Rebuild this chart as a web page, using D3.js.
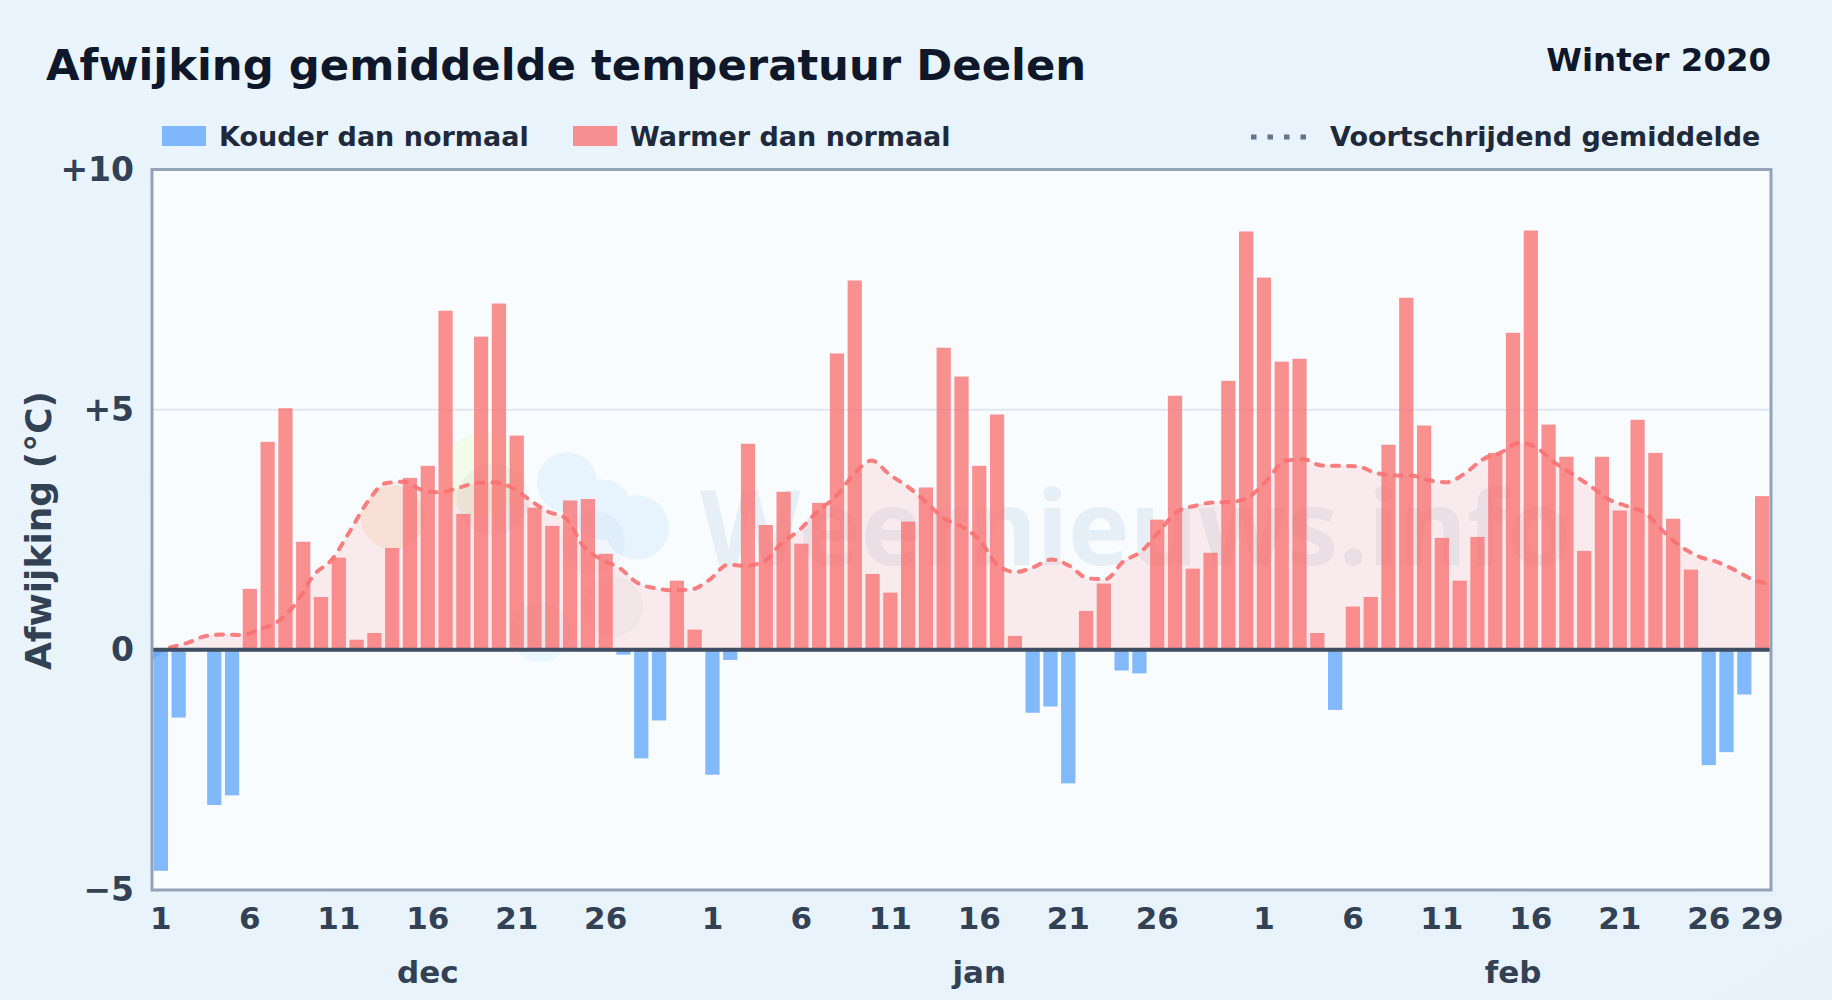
<!DOCTYPE html>
<html>
<head>
<meta charset="utf-8">
<title>Afwijking gemiddelde temperatuur Deelen</title>
<script src="https://cdn.jsdelivr.net/npm/d3@7"></script>
<style>
    html, body { margin: 0; padding: 0; background: #e9f3fc; }
    svg { display: block; }
    text { font-family: "DejaVu Sans", sans-serif; font-weight: 700; }
</style>
</head>
<body>
<svg id="chart" width="1832" height="1000"></svg>
<script>
// Daily values, dec 1 to feb 29
var dec = [-4.6, -1.41, 0, -3.23, -3.03, 1.27, 4.33, 5.03, 2.25, 1.10, 1.92, 0.21, 0.35, 2.12, 3.58, 3.83,
    7.06, 2.83, 6.52, 7.21, 4.46, 2.96, 2.58, 3.11, 3.14, 2.0, -0.1, -2.26, -1.47, 1.44, 0.42];
var jan = [-2.6, -0.21, 4.29, 2.6, 3.29, 2.21, 3.06, 6.17, 7.69, 1.58, 1.19, 2.67, 3.38, 6.29, 5.69, 3.83,
    4.90, 0.29, -1.31, -1.18, -2.78, 0.81, 1.38, -0.43, -0.49, 2.71, 5.29, 1.69, 2.02, 5.6, 8.71];
var feb = [7.75, 6.0, 6.06, 0.35, -1.25, 0.9, 1.10, 4.27, 7.33, 4.67, 2.33, 1.44, 2.35, 4.1, 6.6, 8.73,
    4.69, 4.02, 2.06, 4.02, 2.9, 4.79, 4.1, 2.73, 1.67, -2.4, -2.13, -0.93, 3.2];

// Moving average, one value per day
var gemiddelde = [-0.24, 0.05, 0.15, 0.29, 0.32, 0.31, 0.43, 0.59, 0.97, 1.56, 1.88, 2.47, 3.09, 3.47, 3.5, 3.33,
    3.28, 3.37, 3.47, 3.49, 3.38, 3.12, 2.88, 2.74, 2.15, 1.88, 1.70, 1.39, 1.28, 1.24, 1.26, 1.46,
    1.77, 1.75, 1.84, 2.22, 2.5, 2.88, 3.19, 3.65, 3.94, 3.65, 3.40, 3.09, 2.74, 2.57, 2.29, 1.77,
    1.62, 1.72, 1.88, 1.75, 1.49, 1.47, 1.84, 2.05, 2.47, 2.88, 3.0, 3.07, 3.08, 3.19, 3.54, 3.94,
    3.97, 3.84, 3.83, 3.82, 3.69, 3.63, 3.63, 3.53, 3.49, 3.68, 3.97, 4.11, 4.31, 4.2, 3.89, 3.65,
    3.4, 3.13, 2.99, 2.85, 2.47, 2.15, 1.94, 1.83, 1.66, 1.46, 1.37];

var maanden = ['dec', 'jan', 'feb'];
var dagLabels = [1, 6, 11, 16, 21, 26];
var febExtra = [29];
var yTicks = [-5, 0, 5, 10];
var yRaster = [5];

var titel = 'Afwijking gemiddelde temperatuur Deelen';
var subtitel = 'Winter 2020';
var legendaKoud = 'Kouder dan normaal';
var legendaWarm = 'Warmer dan normaal';
var legendaLijn = 'Voortschrijdend gemiddelde';
var yTitel = 'Afwijking (°C)';
var watermerk = 'Weernieuws.info';

var svg = d3.select('#chart');
var padding = {t: 169.5, r: 61, b: 110, l: 152};
var chartWidth = 1832 - padding.l - padding.r;
var chartHeight = 1000 - padding.t - padding.b;

// page background
var defs = svg.append('defs');
var bg = defs.append('linearGradient').attr('id', 'bg')
    .attr('x1', 0).attr('y1', 0).attr('x2', 1).attr('y2', 1);
bg.append('stop').attr('offset', '0%').attr('stop-color', '#e9f4fc');
bg.append('stop').attr('offset', '100%').attr('stop-color', '#e8f2fb');
defs.append('clipPath').attr('id', 'plotClip').append('rect')
    .attr('width', chartWidth).attr('height', chartHeight);

svg.append('rect').attr('width', 1832).attr('height', 1000).attr('fill', 'url(#bg)');

// one record per day, with its month
var dagen = [];
[dec, jan, feb].forEach(function(values, m) {
    values.forEach(function(v, i) {
        dagen.push({key: maanden[m] + (i + 1), maand: maanden[m], dag: i + 1, waarde: v});
    });
});
var keys = dagen.map(function(d) { return d.key; });

var xScale = d3.scaleBand().domain(keys).range([0, chartWidth]).paddingInner(0.2).paddingOuter(0.1);
// the average runs from frame to frame
var xLine = d3.scalePoint().domain(keys).range([0, chartWidth]);
var yScale = d3.scaleLinear().domain([-5, 10]).range([chartHeight, 0]);

var chartG = svg.append('g').attr('transform', 'translate(' + [padding.l, padding.t] + ')');

chartG.append('rect').attr('width', chartWidth).attr('height', chartHeight).attr('fill', '#f8fcff');

// watermark behind the data
var wm = chartG.append('g').attr('clip-path', 'url(#plotClip)');
wm.append('circle').attr('cx', 331).attr('cy', 305).attr('r', 42).attr('fill', '#ecfccb').attr('opacity', 0.4);
wm.append('circle').attr('cx', 241).attr('cy', 348).attr('r', 32).attr('fill', '#fed7aa').attr('opacity', 0.3);
// cloud in one group, so the overlaps stay flat
var wolk = wm.append('g').attr('fill', '#d3ebfd').attr('opacity', 0.45);
wolk.append('circle').attr('cx', 415).attr('cy', 313).attr('r', 30);
wolk.append('circle').attr('cx', 450).attr('cy', 340).attr('r', 30);
wolk.append('circle').attr('cx', 485).attr('cy', 358).attr('r', 32);
wm.append('circle').attr('cx', 341).attr('cy', 330).attr('r', 36).attr('fill', '#94a3b8').attr('opacity', 0.1);
wm.append('circle').attr('cx', 441).attr('cy', 373).attr('r', 32).attr('fill', '#94a3b8').attr('opacity', 0.07);
wm.append('circle').attr('cx', 461).attr('cy', 437).attr('r', 30).attr('fill', '#94a3b8').attr('opacity', 0.07);
wm.append('circle').attr('cx', 388).attr('cy', 463).attr('r', 30).attr('fill', '#bae6fd').attr('opacity', 0.2);
wm.append('text').text(watermerk)
    .attr('x', 548).attr('y', 395.5)
    .attr('font-size', 104)
    .style('font-family', '"Noto Sans"')
    .attr('fill', '#1e5a8a').attr('opacity', 0.07);

// grid
chartG.selectAll('.raster').data(yRaster).enter().append('line')
    .attr('class', 'raster')
    .attr('x1', 0).attr('x2', chartWidth)
    .attr('y1', function(d) { return yScale(d); })
    .attr('y2', function(d) { return yScale(d); })
    .attr('stroke', '#e2e8f0').attr('stroke-width', 2);

// area under the average
var areaWarm = d3.area()
    .x(function(d) { return xLine(d.key); })
    .y0(yScale(0))
    .y1(function(d, i) { return yScale(Math.max(gemiddelde[i], 0)); })
    .curve(d3.curveMonotoneX);
var areaKoud = d3.area()
    .x(function(d) { return xLine(d.key); })
    .y0(yScale(0))
    .y1(function(d, i) { return yScale(Math.min(gemiddelde[i], 0)); })
    .curve(d3.curveMonotoneX);

chartG.append('path').datum(dagen).attr('d', areaWarm).attr('fill', '#f87171').attr('fill-opacity', 0.13);
chartG.append('path').datum(dagen).attr('d', areaKoud).attr('fill', '#3b82f6').attr('fill-opacity', 0.5);

// bars
chartG.selectAll('.bar').data(dagen).enter().append('rect')
    .attr('class', 'bar')
    .attr('x', function(d) { return xScale(d.key); })
    .attr('width', xScale.bandwidth())
    .attr('y', function(d) { return yScale(Math.max(d.waarde, 0)); })
    .attr('height', function(d) { return Math.abs(yScale(d.waarde) - yScale(0)); })
    .attr('fill', function(d) { return d.waarde < 0 ? '#60a5fa' : '#f87171'; })
    .attr('fill-opacity', 0.78);

// moving average, dashes start at the second day
chartG.append('path').datum(dagen.slice(1)).attr('d', d3.line()
        .x(function(d) { return xLine(d.key); })
        .y(function(d, i) { return yScale(gemiddelde[i + 1]); })
        .curve(d3.curveMonotoneX))
    .attr('fill', 'none')
    .attr('stroke', '#f87171').attr('stroke-opacity', 0.9)
    .attr('stroke-width', 4)
    .attr('stroke-linecap', 'round')
    .attr('stroke-dasharray', '7 9');

// zero line and frame
chartG.append('line')
    .attr('x1', 0).attr('x2', chartWidth)
    .attr('y1', yScale(0)).attr('y2', yScale(0))
    .attr('stroke', '#414d60').attr('stroke-width', 4);
chartG.append('rect')
    .attr('width', chartWidth).attr('height', chartHeight)
    .attr('fill', 'none').attr('stroke', '#94a3b8').attr('stroke-width', 3);

// axes
var yAxis = d3.axisLeft(yScale).tickValues(yTicks).tickSize(0).tickPadding(18)
    .tickFormat(function(d) { return d > 0 ? '+' + d : (d < 0 ? '\u2212' + Math.abs(d) : '0'); });
var yG = chartG.append('g').call(yAxis);
yG.select('.domain').remove();
yG.selectAll('text').attr('font-size', 33).attr('fill', '#334155');

var tickKeys = [];
maanden.forEach(function(m) {
    dagLabels.forEach(function(d) { tickKeys.push(m + d); });
});
febExtra.forEach(function(d) { tickKeys.push('feb' + d); });

var xAxis = d3.axisBottom(xScale).tickValues(tickKeys).tickSize(0).tickPadding(17)
    .tickFormat(function(k) { return k.slice(3); });
var xG = chartG.append('g').attr('transform', 'translate(0,' + chartHeight + ')').call(xAxis);
xG.select('.domain').remove();
xG.selectAll('text').attr('font-size', 31).attr('fill', '#334155');

// month labels, centred under their days
maanden.forEach(function(m) {
    var days = dagen.filter(function(d) { return d.maand === m; });
    var first = xScale(days[0].key);
    var last = xScale(days[days.length - 1].key) + xScale.bandwidth();
    chartG.append('text').text(m)
        .attr('x', (first + last) / 2)
        .attr('y', chartHeight + 93)
        .attr('text-anchor', 'middle')
        .attr('font-size', 31).attr('fill', '#334155');
});

svg.append('text').text(yTitel)
    .attr('transform', 'translate(51,530.5) rotate(-90)')
    .attr('text-anchor', 'middle')
    .attr('font-size', 36).attr('fill', '#334155');

// titles
svg.append('text').text(titel)
    .attr('x', 46).attr('y', 80)
    .attr('font-size', 43.35).attr('fill', '#0f172a');
svg.append('text').text(subtitel)
    .attr('x', 1771).attr('y', 71)
    .attr('text-anchor', 'end')
    .attr('font-size', 32.4).attr('fill', '#0f172a');

// legend
var legenda = svg.append('g');
legenda.append('rect').attr('x', 162).attr('y', 126).attr('width', 44).attr('height', 20)
    .attr('fill', '#60a5fa').attr('fill-opacity', 0.78);
legenda.append('text').text(legendaKoud).attr('x', 219).attr('y', 146)
    .attr('font-size', 27).attr('fill', '#1e293b');
legenda.append('rect').attr('x', 573).attr('y', 126).attr('width', 44).attr('height', 20)
    .attr('fill', '#f87171').attr('fill-opacity', 0.78);
legenda.append('text').text(legendaWarm).attr('x', 630).attr('y', 146)
    .attr('font-size', 27).attr('fill', '#1e293b');
legenda.append('line').attr('x1', 1251).attr('x2', 1308).attr('y1', 137).attr('y2', 137)
    .attr('stroke', '#64748b').attr('stroke-width', 5).attr('stroke-dasharray', '5.5 11');
legenda.append('text').text(legendaLijn).attr('x', 1330).attr('y', 146)
    .attr('font-size', 27).attr('fill', '#1e293b');
</script>
</body>
</html>
